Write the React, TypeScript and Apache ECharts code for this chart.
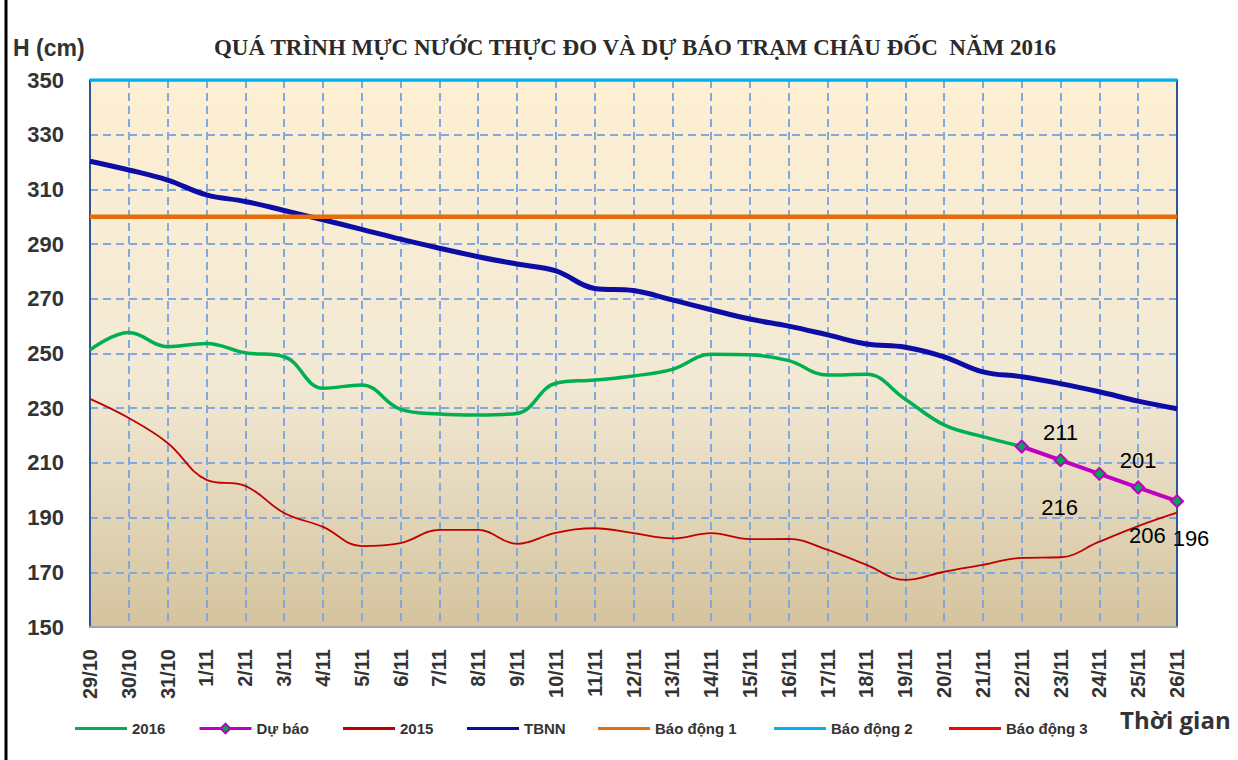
import React, { useEffect, useRef } from "react";
import * as echarts from "echarts";

const categories = [
  "29/10", "30/10", "31/10", "1/11", "2/11", "3/11", "4/11", "5/11", "6/11", "7/11",
  "8/11", "9/11", "10/11", "11/11", "12/11", "13/11", "14/11", "15/11", "16/11", "17/11",
  "18/11", "19/11", "20/11", "21/11", "22/11", "23/11", "24/11", "25/11", "26/11",
];

const obs2016 = [
  251.3, 257.7, 252.5, 253.7, 250.3, 248.8, 237.3, 238.5, 229.6, 227.9,
  227.5, 228.1, 239.1, 240.3, 241.8, 244.2, 249.7, 249.5, 247.4, 242.1,
  242.4, 233.3, 223.9, 219.6, 216,
];

const forecastStartLabel = "22/11";
const forecast = [216, 211, 206, 201, 196];

const obs2015 = [
  233.4, 226.4, 217.3, 203.8, 201.6, 191.7, 186.6, 179.6, 180.7, 185.5,
  185.5, 180.4, 184.4, 186.1, 184.3, 182.4, 184.3, 182.1, 182.2, 178.2,
  172.7, 167.2, 170.2, 172.7, 175.3, 175.5, 181.2, 186.9, 191.8,
];

const tbnn = [
  320.3, 317.1, 313.4, 308, 305.6, 302.3, 298.9, 295.4, 291.8, 288.5,
  285.4, 282.7, 280.2, 273.8, 273, 269.6, 266, 262.6, 260, 256.8,
  253.5, 252.3, 248.8, 243.3, 241.5, 239, 236, 232.6, 229.8,
];

const alarm1 = 300;
const alarm2 = 350;
const alarm3 = 400;

const yTicks = { min: 150, max: 350, step: 20 };

// label offsets for forecast values (styling only)
const forecastLabelOffsets: [number, number][] = [
  [38, 61],
  [0, -28],
  [48, 62],
  [0, -27],
  [14, 37],
];

const FONT = "'Liberation Sans', Arial, sans-serif";

export default function App() {
  const ref = useRef<HTMLDivElement>(null);

  useEffect(() => {
    if (!ref.current) return;
    const chart = echarts.init(ref.current, null, { renderer: "svg" });

    const startIdx = categories.indexOf(forecastStartLabel);
    const forecastData = categories.map((_, i) => {
      const k = i - startIdx;
      if (k < 0 || k >= forecast.length) return null;
      return {
        value: forecast[k],
        label: { offset: forecastLabelOffsets[k] },
      };
    });

    const legendItems: { name: string; left: number; marker?: boolean }[] = [
      { name: "2016", left: 70 },
      { name: "Dự báo", left: 193, marker: true },
      { name: "2015", left: 338 },
      { name: "TBNN", left: 462 },
      { name: "Báo động 1", left: 593 },
      { name: "Báo động 2", left: 769 },
      { name: "Báo động 3", left: 944 },
    ];

    const legendText = {
      fontFamily: FONT,
      fontWeight: "bold",
      fontSize: 15,
      color: "#333333",
    };

    const bg = new echarts.graphic.LinearGradient(0, 0, 0, 1, [
      { offset: 0, color: "#fdefd3" },
      { offset: 0.55, color: "#f2e9d5" },
      { offset: 1, color: "#d4c39d" },
    ]);

    chart.setOption({
      animation: false,
      backgroundColor: "#ffffff",
      title: {
        text: "QUÁ TRÌNH MỰC NƯỚC THỰC ĐO VÀ DỰ BÁO TRẠM CHÂU ĐỐC  NĂM 2016",
        left: 630,
        textAlign: "center",
        top: 31,
        textStyle: {
          fontFamily: "'Liberation Serif', 'Times New Roman', serif",
          fontWeight: "bold",
          fontSize: 23,
          color: "#2a2a2a",
        },
      },
      legend: legendItems.map((it) =>
        it.marker
          ? {
              data: [it.name],
              left: it.left,
              top: 716,
              itemWidth: 52,
              itemHeight: 12,
              itemGap: 0,
              lineStyle: { width: 3 },
              textStyle: legendText,
            }
          : {
              data: [{ name: it.name, icon: "rect" }],
              left: it.left,
              top: 716,
              itemWidth: 52,
              itemHeight: 3,
              itemGap: 0,
              textStyle: legendText,
            }
      ),
      grid: {
        left: 90,
        right: 61,
        top: 80,
        bottom: 133,
        show: true,
        backgroundColor: bg,
        borderWidth: 0,
      },
      xAxis: {
        type: "category",
        data: categories,
        boundaryGap: false,
        axisLine: { show: true, lineStyle: { color: "#a6a6a6", width: 2 } },
        axisTick: { show: false },
        axisLabel: {
          interval: 0,
          rotate: 90,
          margin: 22,
          fontFamily: FONT,
          fontWeight: "bold",
          fontSize: 20,
          color: "#333333",
        },
        splitLine: {
          show: true,
          interval: 0,
          lineStyle: { color: "#82a8e0", width: 2, type: [8, 5] },
        },
      },
      yAxis: [
        {
          type: "value",
          min: yTicks.min,
          max: yTicks.max,
          interval: yTicks.step,
          axisLine: { show: true, lineStyle: { color: "#2f5597", width: 2 } },
          axisTick: { show: false },
          axisLabel: {
            margin: 26,
            fontFamily: FONT,
            fontWeight: "bold",
            fontSize: 22,
            color: "#333333",
          },
          splitLine: {
            show: true,
            lineStyle: { color: "#82a8e0", width: 2, type: [8, 5] },
          },
        },
        {
          type: "value",
          position: "right",
          min: yTicks.min,
          max: yTicks.max,
          interval: yTicks.step,
          axisLine: { show: true, lineStyle: { color: "#2f5597", width: 2 } },
          axisTick: { show: false },
          axisLabel: { show: false },
          splitLine: { show: false },
        },
      ],
      graphic: [
        {
          type: "line",
          shape: { x1: 6, y1: 0, x2: 6, y2: 760 },
          style: { stroke: "#000000", lineWidth: 3 },
        },
        {
          type: "text",
          left: 13,
          top: 36,
          style: {
            text: "H (cm)",
            fontFamily: FONT,
            fontWeight: "bold",
            fontSize: 23,
            fill: "#333333",
          },
        },
        {
          type: "text",
          left: 1120,
          top: 707,
          style: {
            text: "Thời gian",
            fontFamily: "'Open Sans', sans-serif",
            fontWeight: "bold",
            fontSize: 24,
            fill: "#333333",
          },
        },
      ],
      series: [
        {
          name: "Báo động 2",
          type: "line",
          data: categories.map(() => alarm2),
          symbol: "none",
          lineStyle: { color: "#00b0f0", width: 3.5 },
          itemStyle: { color: "#00b0f0" },
        },
        {
          name: "Báo động 3",
          type: "line",
          data: categories.map(() => alarm3),
          symbol: "none",
          lineStyle: { color: "#ff0000", width: 3 },
          itemStyle: { color: "#ff0000" },
        },
        {
          name: "2015",
          type: "line",
          data: obs2015,
          smooth: 0.4,
          symbol: "none",
          lineStyle: { color: "#c00000", width: 1.8 },
          itemStyle: { color: "#c00000" },
        },
        {
          name: "TBNN",
          type: "line",
          data: tbnn,
          smooth: 0.4,
          symbol: "none",
          lineStyle: { color: "#0d0da6", width: 5 },
          itemStyle: { color: "#0d0da6" },
        },
        {
          name: "Báo động 1",
          type: "line",
          data: categories.map(() => alarm1),
          symbol: "none",
          lineStyle: { color: "#e46c0a", width: 4.5 },
          itemStyle: { color: "#e46c0a" },
        },
        {
          name: "2016",
          type: "line",
          data: obs2016,
          smooth: 0.4,
          symbol: "none",
          lineStyle: { color: "#00b050", width: 3.5 },
          itemStyle: { color: "#00b050" },
        },
        {
          name: "Dự báo",
          type: "line",
          data: forecastData,
          symbol: "diamond",
          symbolSize: 12,
          lineStyle: { color: "#c000c0", width: 4 },
          itemStyle: { color: "#00a651", borderColor: "#c000c0", borderWidth: 2 },
          label: {
            show: true,
            position: "inside",
            fontFamily: FONT,
            fontSize: 22,
            color: "#000000",
          },
        },
      ],
    });

    return () => chart.dispose();
  }, []);

  return <div ref={ref} style={{ width: 1238, height: 760, position: "absolute", left: 0, top: 0 }} />;
}
